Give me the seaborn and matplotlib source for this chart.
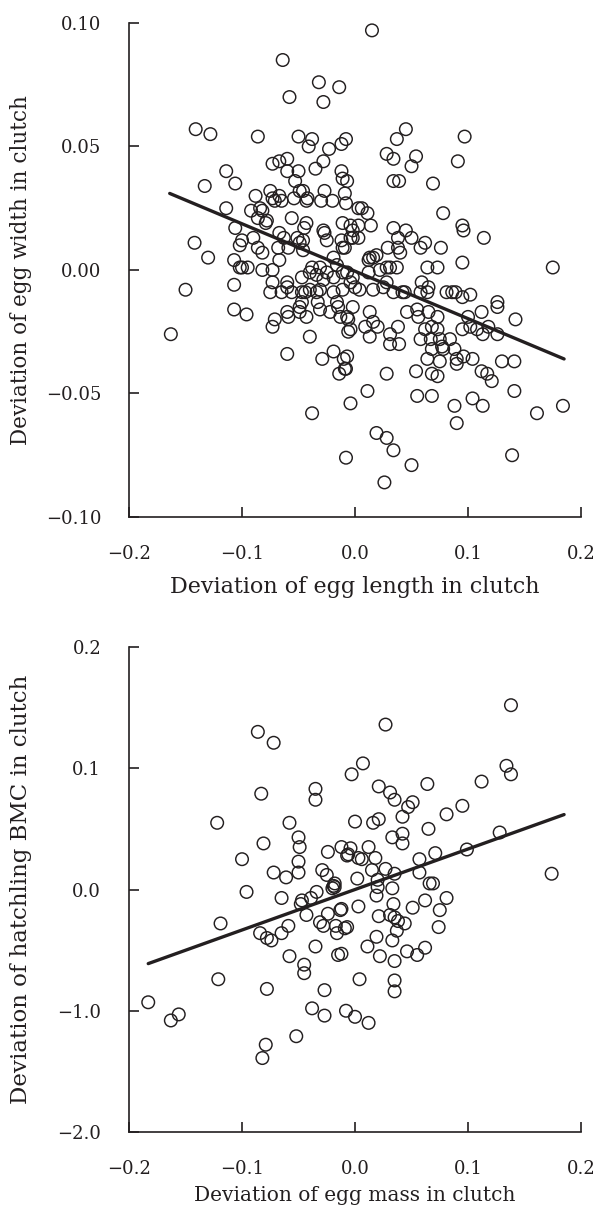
import numpy as np
import pandas as pd
import matplotlib
matplotlib.use("Agg")
import matplotlib.pyplot as plt
import seaborn as sns

# ---------------- data: top panel (egg length vs egg width deviations) ----------------
top_x = [0.015, -0.064, -0.032, -0.014, -0.058, -0.028, -0.141, -0.128, -0.086, -0.050,
         -0.038, -0.041, -0.023, -0.012, -0.008, -0.060, -0.067, -0.073, -0.028, -0.060,
         -0.050, -0.035, -0.012, -0.011, -0.007, -0.114, -0.106, -0.133, -0.053, -0.075,
         -0.088, -0.073, -0.067, -0.065, -0.054, -0.046, -0.042, -0.027, -0.030, -0.020,
         -0.009, -0.008, 0.003, -0.114, -0.092, -0.084, -0.086, -0.079, -0.056, -0.043,
         -0.045, -0.011, -0.004, -0.106, -0.142, -0.130, -0.107, -0.100, -0.090, -0.067,
         -0.063, -0.049, -0.027, -0.025, -0.012, -0.002, -0.082, -0.067, -0.046, -0.019,
         0.045, 0.037, 0.097, 0.028, 0.034, 0.054, 0.050, 0.091, 0.034, 0.039,
         0.069, 0.006, 0.011, 0.014, 0.078, 0.034, 0.045, 0.050, 0.095, 0.096,
         0.114, 0.062, 0.058, 0.076, 0.029, 0.038, 0.040, -0.002, 0.003, 0.013,
         0.019, 0.095, 0.064, 0.073, 0.175, 0.031, 0.037, -0.102, -0.095, -0.082,
         -0.073, -0.150, -0.107, -0.107, -0.096, -0.163, -0.075, -0.065, -0.060, -0.056,
         -0.073, -0.047, -0.040, -0.034, -0.028, -0.019, -0.044, -0.034, -0.019, -0.047,
         -0.033, -0.049, -0.060, -0.059, -0.071, -0.073, -0.043, -0.022, -0.015, -0.013,
         -0.007, -0.004, -0.006, -0.002, -0.040, -0.060, -0.029, -0.019, -0.010, -0.008,
         -0.014, -0.004, -0.038, -0.008, 0.059, 0.065, 0.064, 0.081, 0.086, 0.089,
         0.095, 0.102, 0.126, 0.126, 0.112, 0.142, 0.100, 0.102, 0.108, 0.113,
         0.126, 0.118, 0.095, 0.046, 0.055, 0.056, 0.065, 0.073, 0.068, 0.073,
         0.062, 0.058, 0.075, 0.084, 0.068, 0.078, 0.088, 0.096, 0.104, 0.090,
         0.064, 0.075, 0.130, 0.141, 0.112, 0.117, 0.121, 0.054, 0.068, 0.073,
         0.028, 0.011, 0.055, 0.068, 0.088, 0.104, 0.113, 0.141, 0.090, 0.161,
         0.184, 0.019, 0.028, 0.034, 0.050, 0.139, 0.026, 0.013, 0.016, 0.020,
         0.009, 0.013, 0.031, 0.031, 0.039, 0.038, 0.004, 0.016, 0.025, 0.034,
         0.042, 0.028, -0.004, -0.011, -0.002, 0.012, 0.022, 0.028, 0.016, 0.012,
         -0.102, -0.086, -0.100, -0.060, -0.049, -0.040, -0.047, -0.031, -0.016, -0.031,
         -0.038, -0.031, -0.025, -0.016, -0.011, -0.051, -0.046, -0.059, -0.068, -0.049,
         -0.043, -0.071, -0.082, -0.078, -0.028, -0.009, 0.003, -0.004, -0.011, 0.038,
         0.000, -0.007, 0.058, 0.044, 0.067, 0.077, 0.090, -0.007, -0.009, -0.006]
top_y = [0.097, 0.085, 0.076, 0.074, 0.070, 0.068, 0.057, 0.055, 0.054, 0.054,
         0.053, 0.050, 0.049, 0.051, 0.053, 0.045, 0.044, 0.043, 0.044, 0.040,
         0.040, 0.041, 0.040, 0.037, 0.036, 0.040, 0.035, 0.034, 0.036, 0.032,
         0.030, 0.029, 0.030, 0.028, 0.029, 0.032, 0.029, 0.032, 0.028, 0.028,
         0.031, 0.027, 0.025, 0.025, 0.024, 0.025, 0.021, 0.019, 0.021, 0.019,
         0.017, 0.019, 0.018, 0.017, 0.011, 0.005, 0.004, 0.012, 0.013, 0.015,
         0.013, 0.011, 0.015, 0.012, 0.012, 0.013, 0.007, 0.004, 0.008, 0.005,
         0.057, 0.053, 0.054, 0.047, 0.045, 0.046, 0.042, 0.044, 0.036, 0.036,
         0.035, 0.025, 0.023, 0.018, 0.023, 0.017, 0.016, 0.013, 0.018, 0.016,
         0.013, 0.011, 0.009, 0.009, 0.009, 0.009, 0.007, 0.016, 0.013, 0.005,
         0.006, 0.003, 0.001, 0.001, 0.001, 0.001, 0.001, 0.001, 0.001, 0.000,
         0.000, -0.008, -0.006, -0.016, -0.018, -0.026, -0.009, -0.009, -0.005, -0.009,
         -0.005, -0.003, -0.001, -0.002, -0.004, -0.003, -0.009, -0.009, -0.009, -0.013,
         -0.013, -0.017, -0.017, -0.019, -0.020, -0.023, -0.019, -0.017, -0.015, -0.019,
         -0.019, -0.024, -0.025, -0.015, -0.027, -0.034, -0.036, -0.033, -0.036, -0.040,
         -0.042, -0.054, -0.058, -0.076, -0.005, -0.007, -0.009, -0.009, -0.009, -0.009,
         -0.011, -0.010, -0.013, -0.015, -0.017, -0.020, -0.019, -0.023, -0.024, -0.026,
         -0.026, -0.023, -0.024, -0.017, -0.016, -0.019, -0.017, -0.019, -0.023, -0.024,
         -0.024, -0.028, -0.028, -0.028, -0.032, -0.032, -0.032, -0.035, -0.036, -0.038,
         -0.036, -0.037, -0.037, -0.037, -0.041, -0.042, -0.045, -0.041, -0.042, -0.043,
         -0.042, -0.049, -0.051, -0.051, -0.055, -0.052, -0.055, -0.049, -0.062, -0.058,
         -0.055, -0.066, -0.068, -0.073, -0.079, -0.075, -0.086, -0.017, -0.021, -0.023,
         -0.023, -0.027, -0.026, -0.030, -0.030, -0.023, -0.008, -0.008, -0.007, -0.009,
         -0.009, -0.005, -0.005, -0.008, -0.003, -0.001, 0.000, 0.001, 0.005, 0.004,
         0.010, 0.009, 0.001, -0.007, -0.015, -0.008, -0.009, -0.008, -0.013, -0.016,
         0.001, 0.001, -0.001, 0.002, -0.001, 0.013, 0.012, 0.009, 0.009, 0.032,
         0.028, 0.028, 0.024, 0.020, 0.016, 0.009, 0.018, 0.013, 0.009, 0.013,
         -0.007, -0.001, -0.009, -0.009, -0.028, -0.031, -0.036, -0.035, -0.040, -0.020]

# ---------------- data: bottom panel (egg mass vs hatchling BMC deviations) ----------------
bot_x = [-0.086, -0.072, -0.003, 0.007, -0.083, -0.035, -0.035, -0.122, -0.058, 0.000,
         -0.050, -0.049, -0.081, -0.024, -0.012, -0.004, -0.006, 0.003, -0.100, -0.050,
         -0.050, -0.072, -0.061, -0.029, -0.025, -0.019, -0.020, 0.002, -0.096, -0.034,
         -0.039, -0.065, -0.047, 0.138, 0.027, 0.134, 0.138, 0.112, 0.064, 0.021,
         0.031, 0.035, 0.051, 0.047, 0.095, 0.081, 0.042, 0.016, 0.021, 0.065,
         0.128, 0.033, 0.042, 0.042, 0.099, 0.071, 0.012, -0.007, 0.006, 0.018,
         0.027, 0.015, 0.035, 0.057, 0.057, 0.020, 0.066, 0.069, 0.174, 0.033,
         0.020, 0.019, 0.062, 0.081, -0.018, -0.013, -0.024, -0.031, -0.028, -0.017,
         -0.016, -0.007, -0.043, -0.059, -0.065, -0.084, -0.078, -0.074, -0.035, -0.058,
         -0.015, -0.045, -0.045, -0.078, -0.027, -0.038, -0.027, -0.008, -0.012, 0.003,
         0.034, 0.051, 0.075, 0.021, 0.031, 0.035, 0.038, 0.044, 0.037, 0.074,
         -0.009, 0.019, 0.033, 0.011, 0.062, 0.046, 0.055, 0.022, 0.035, -0.012,
         0.004, 0.035, 0.035, 0.000, 0.012, -0.119, -0.121, -0.183, -0.163, -0.156,
         -0.052, -0.079, -0.082, -0.048, -0.018]
bot_y = [0.130, 0.121, 0.095, 0.104, 0.079, 0.083, 0.074, 0.055, 0.055, 0.056,
         0.043, 0.035, 0.038, 0.031, 0.035, 0.034, 0.029, 0.026, 0.025, 0.023,
         0.014, 0.014, 0.010, 0.016, 0.012, 0.003, 0.001, 0.009, -0.002, -0.002,
         -0.007, -0.007, -0.009, 0.152, 0.136, 0.102, 0.095, 0.089, 0.087, 0.085,
         0.080, 0.074, 0.072, 0.068, 0.069, 0.062, 0.060, 0.055, 0.058, 0.050,
         0.047, 0.043, 0.046, 0.038, 0.033, 0.030, 0.035, 0.028, 0.025, 0.026,
         0.017, 0.016, 0.013, 0.025, 0.014, 0.008, 0.005, 0.005, 0.013, 0.001,
         0.002, -0.005, -0.009, -0.007, 0.005, -0.017, -0.020, -0.027, -0.030, -0.030,
         -0.036, -0.031, -0.021, -0.030, -0.036, -0.036, -0.040, -0.042, -0.047, -0.055,
         -0.054, -0.062, -0.069, -0.082, -0.083, -0.098, -0.104, -0.100, -0.016, -0.014,
         -0.012, -0.015, -0.017, -0.022, -0.021, -0.023, -0.026, -0.028, -0.034, -0.031,
         -0.032, -0.039, -0.042, -0.047, -0.048, -0.051, -0.054, -0.055, -0.059, -0.053,
         -0.074, -0.075, -0.084, -0.105, -0.110, -0.028, -0.074, -0.093, -0.108, -0.103,
         -0.121, -0.128, -0.139, -0.012, 0.002]

# regression lines (slope, intercept, x extent)
top_fit = (-0.192, -0.0005)
top_fit_x = [-0.164, 0.185]
bot_fit = (0.334, 0.000)
bot_fit_x = [-0.183, 0.185]

# axis text
x_ticks = [-0.2, -0.1, 0.0, 0.1, 0.2]
x_tick_labels = ["\u22120.2", "\u22120.1", "0.0", "0.1", "0.2"]
top_y_ticks = [0.10, 0.05, 0.00, -0.05, -0.10]
top_y_tick_labels = ["0.10", "0.05", "0.00", "\u22120.05", "\u22120.10"]
bot_y_ticks = [0.2, 0.1, 0.0, -0.1, -0.2]
bot_y_tick_labels = ["0.2", "0.1", "0.0", "\u22121.0", "\u22122.0"]
top_xlabel = "Deviation of egg length in clutch"
top_ylabel = "Deviation of egg width in clutch"
bot_xlabel = "Deviation of egg mass in clutch"
bot_ylabel = "Deviation of hatchling BMC in clutch"

# ---------------- styling ----------------
sns.set_theme(style="ticks")
plt.rcParams["font.family"] = ["DejaVu Serif"]
INK = "#231f20"

fig = plt.figure(figsize=(5.99, 12.15), dpi=100)
ax_top = fig.add_axes([0.2154, 0.5745, 0.7546, 0.4066])
ax_bot = fig.add_axes([0.2154, 0.0683, 0.7546, 0.3992])

df_top = pd.DataFrame({"x": top_x, "y": top_y})
df_bot = pd.DataFrame({"x": bot_x, "y": bot_y})


def draw(ax, df, fit, fit_x, yticks, yticklabels, xlabel, ylabel, ylim,
         xlabel_y, xsize, ysize):
    sns.scatterplot(data=df, x="x", y="y", ax=ax, marker="o", s=82,
                    facecolor="none", edgecolor=INK, linewidth=1.05, clip_on=False)
    lx = np.array(fit_x)
    line_df = pd.DataFrame({"x": lx, "y": fit[0] * lx + fit[1]})
    sns.lineplot(data=line_df, x="x", y="y", ax=ax, color=INK, linewidth=2.4)
    ax.set_xlim(-0.2, 0.2)
    ax.set_ylim(*ylim)
    ax.set_xticks(x_ticks)
    ax.set_xticklabels(x_tick_labels)
    ax.set_yticks(yticks)
    ax.set_yticklabels(yticklabels)
    for side in ("top", "right"):
        ax.spines[side].set_visible(False)
    for side in ("left", "bottom"):
        ax.spines[side].set_color(INK)
        ax.spines[side].set_linewidth(1.2)
    ax.tick_params(direction="in", length=7, width=1.2, colors=INK,
                   labelsize=13, pad=20, labelcolor=INK)
    ax.set_xlabel(xlabel, fontsize=xsize, color=INK)
    ax.set_ylabel(ylabel, fontsize=ysize, color=INK)
    ax.xaxis.set_label_coords(0.5, xlabel_y)
    ax.yaxis.set_label_coords(-0.215, 0.5)


draw(ax_top, df_top, top_fit, top_fit_x, top_y_ticks, top_y_tick_labels,
     top_xlabel, top_ylabel, (-0.10, 0.10), -0.12, 16, 15.5)
draw(ax_bot, df_bot, bot_fit, bot_fit_x, bot_y_ticks, bot_y_tick_labels,
     bot_xlabel, bot_ylabel, (-0.2, 0.2), -0.112, 14.5, 16.5)

fig.savefig("out.png", dpi=100)
